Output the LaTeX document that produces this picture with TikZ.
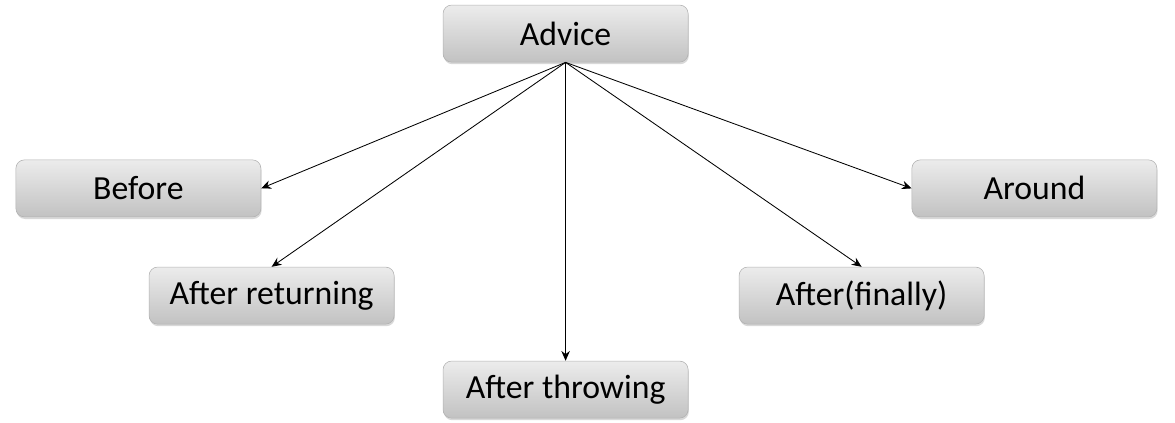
\documentclass[tikz,border=0pt]{standalone}
\usepackage{fontspec}
\setmainfont{Carlito}
\usepackage{tikz}
\usetikzlibrary{shapes,arrows.meta,positioning,calc,shadows}

\begin{document}
\begin{tikzpicture}[
    advicebox/.style={
        rectangle,
        draw=gray!60,
        top color=gray!15,
        bottom color=gray!48,
        rounded corners=6pt,
        minimum width=6.125cm,
        minimum height=1.425cm,
        align=center,
        font=\fontsize{24}{28}\selectfont,
        drop shadow={shadow xshift=0.5pt, shadow yshift=-1.5pt, fill=gray!60, opacity=0.5}
    },
    arrow/.style={
        -{Stealth[length=7pt,width=6pt]},
        line width=0.6pt
    }
]
\useasboundingbox (0,0) rectangle (29.375,-10.575);

% --- Root ---
\node[advicebox] (advice) at (14.14,-0.84) {Advice};

% --- Kinds of advice ---
\node[advicebox] (before) at (3.46,-4.71) {Before};
\node[advicebox] (around) at (25.86,-4.71) {Around};
\node[advicebox] (returning) at (6.79,-7.39) {After returning};
\node[advicebox] (finally) at (21.54,-7.39) {After(finally)};
\node[advicebox] (throwing) at (14.14,-9.74) {After throwing};

% --- Connections ---
\draw[arrow] (advice.south) -- (before.east);
\draw[arrow] (advice.south) -- (returning.north);
\draw[arrow] (advice.south) -- (throwing.north);
\draw[arrow] (advice.south) -- (finally.north);
\draw[arrow] (advice.south) -- (around.west);

\end{tikzpicture}
\end{document}
